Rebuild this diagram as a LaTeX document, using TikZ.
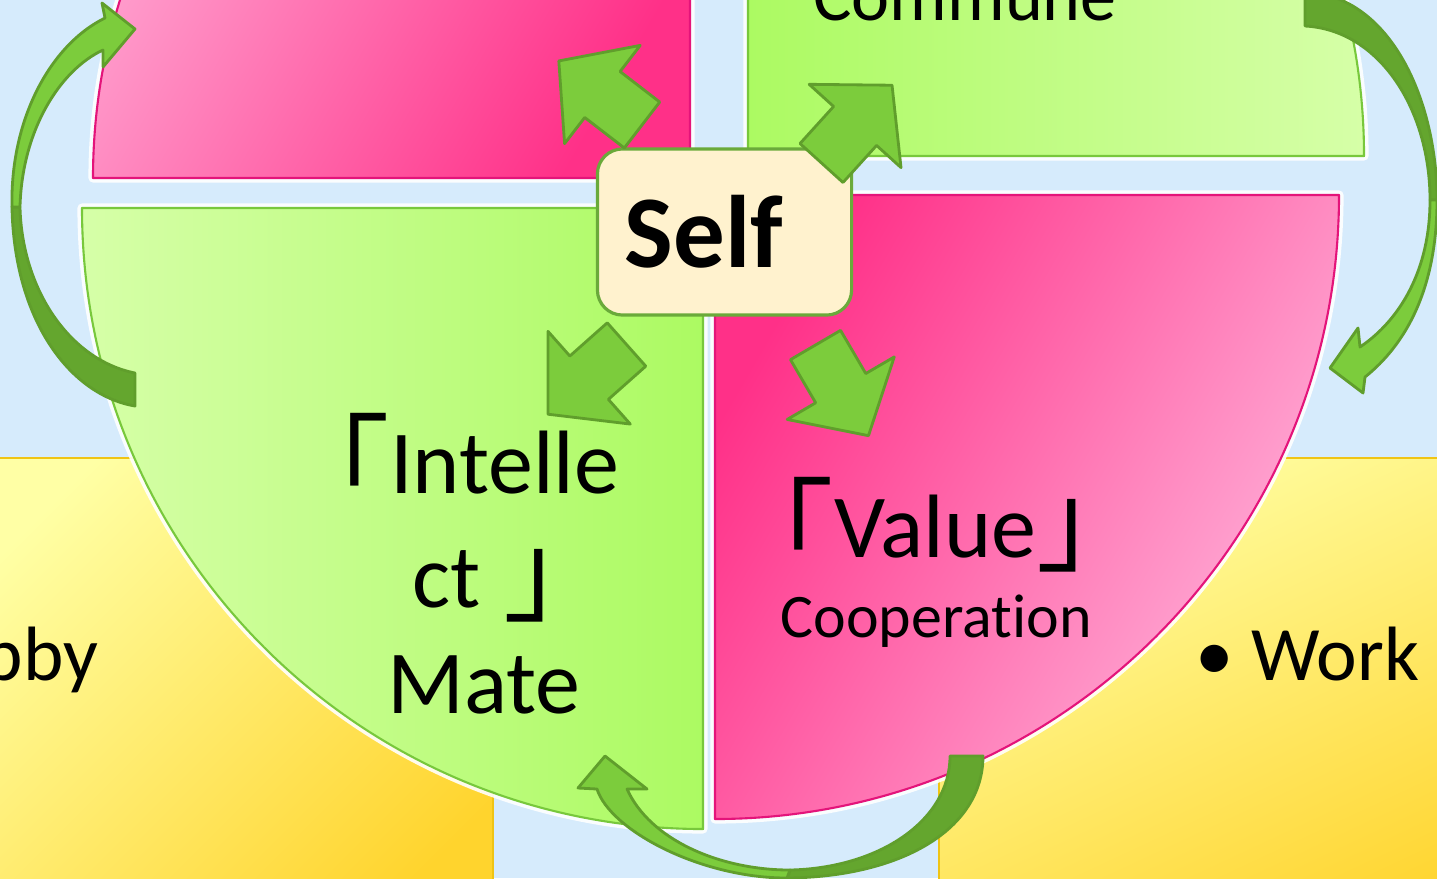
\documentclass[tikz,border=0pt]{standalone}
\usepackage{fontspec}
\setmainfont{Carlito}[Ligatures=NoCommon]
\newfontfamily\cjk{Noto Sans CJK JP}[Scale=1.25]
\usepackage{xcolor}
\usepackage{tikz}
\usetikzlibrary{calc}

\definecolor{skyback}{RGB}{214,235,252}
\definecolor{pinkdeep}{RGB}{255,48,136}
\definecolor{pinklight}{RGB}{255,182,220}
\definecolor{pinkedge}{RGB}{228,20,122}
\definecolor{greenbright}{RGB}{172,250,98}
\definecolor{greenlight}{RGB}{214,255,168}
\definecolor{greenedge}{RGB}{120,200,60}
\definecolor{yellowlight}{RGB}{255,255,165}
\definecolor{yellowdeep}{RGB}{255,212,45}
\definecolor{yellowedge}{RGB}{240,196,20}
\definecolor{arrowfill}{RGB}{124,204,60}
\definecolor{arrowdark}{RGB}{100,166,46}
\definecolor{arrowline}{RGB}{96,158,44}
\definecolor{selffill}{RGB}{255,242,206}
\definecolor{selfline}{RGB}{106,170,58}

\newcommand{\openmark}{\raisebox{-0.15cm}{\cjk 「}}
\newcommand{\closemark}{\raisebox{-0.05cm}{\cjk 」}}

\begin{document}
\begin{tikzpicture}[
		%Global config
		x=0.01cm, y=-0.01cm,
		line join=round,
		%Styles
		glow/.style={preaction={draw=white, line width=2.6pt, opacity=0.9}},
		pinkpart/.style={glow, draw=pinkedge, line width=0.6pt},
		greenpart/.style={glow, draw=greenedge, line width=0.6pt},
		yellowpart/.style={draw=yellowedge, line width=0.8pt},
		arrowlight/.style={fill=arrowfill, draw=arrowline, line width=0.8pt},
		arrowback/.style={fill=arrowdark, draw=arrowline, line width=0.8pt},
		selfbox/.style={
			draw=selfline,
			line width=0.9pt,
			fill=selffill,
			rounded corners=0.25cm,
			minimum height=1.66cm,
			text width=2.0cm,
			inner xsep=0.27cm,
			align=left,
			font=\bfseries\fontsize{29.3pt}{35pt}\selectfont
		},
		quadtext/.style={inner sep=0pt, font=\fontsize{25.6pt}{31pt}\selectfont},
		subtext/.style={inner sep=0pt, font=\fontsize{17.6pt}{21pt}\selectfont},
		toptext/.style={inner sep=0pt, font=\fontsize{20.5pt}{25pt}\selectfont},
		sidetext/.style={inner sep=0pt, font=\fontsize{21.9pt}{26pt}\selectfont},
		pics/blockarr/.style={code={
			\draw[arrowlight] (0,-29) -- (50,-29) -- (50,-62) -- (105,0) -- (50,62) -- (50,29) -- (0,29) -- cycle;
		}}
	]

	\useasboundingbox (0,0) rectangle (1437,878);
	\clip (0,0) rectangle (1437,878);
	\fill[skyback] (0,0) rectangle (1437,878);

	% yellow boxes behind
	\draw[yellowpart, top color=yellowlight, bottom color=yellowdeep, shading angle=45] (-60,458) rectangle (493,960);
	\draw[yellowpart, top color=yellowlight, bottom color=yellowdeep, shading angle=25] (939,458) rectangle (1520,960);

	% four quarters
	\draw[pinkpart, top color=pinklight, bottom color=pinkdeep, shading angle=60]
		(690,178) -- (93,178) arc[start angle=180, end angle=270, radius=597] -- cycle;
	\draw[greenpart, left color=greenbright, right color=greenlight]
		(748,156) -- (748,-460) arc[start angle=270, end angle=360, radius=616] -- cycle;
	\draw[pinkpart, top color=pinkdeep, bottom color=pinklight, shading angle=60]
		(715,195) -- (1339,195) arc[start angle=0, end angle=90, radius=624] -- cycle;
	\draw[greenpart, left color=greenlight, right color=greenbright]
		(703,208) -- (703,829) arc[start angle=90, end angle=180, radius=621] -- cycle;

	% curved arrows round the circle
	\filldraw[arrowback] (135,406) .. controls (70,395) and (14,320) .. (12,207) -- (20,207)
		.. controls (22,290) and (70,360) .. (135,373) -- cycle;
	\filldraw[arrowlight] (12,207) .. controls (10,120) and (50,45) .. (105,18)
		-- (102,3) -- (135,29) -- (103,67) -- (103,50)
		.. controls (60,70) and (22,130) .. (20,207) -- cycle;

	\filldraw[arrowback] (1305,-8) .. controls (1390,-5) and (1437,100) .. (1437,200) -- (1430,200)
		.. controls (1430,110) and (1380,30) .. (1305,26) -- cycle;
	\filldraw[arrowlight] (1437,200) .. controls (1437,290) and (1405,345) .. (1365,377)
		-- (1363,393) -- (1330,368) -- (1358,328) -- (1360,347)
		.. controls (1400,320) and (1430,270) .. (1430,200) -- cycle;

	\filldraw[arrowback] (983,756) .. controls (983,830) and (900,877) .. (787,878) -- (790,870)
		.. controls (880,868) and (950,820) .. (950,756) -- cycle;
	\filldraw[arrowlight] (787,878) .. controls (700,878) and (610,830) .. (597,789)
		-- (578,788) -- (605,756) -- (647,789) -- (627,789)
		.. controls (650,840) and (720,870) .. (790,870) -- cycle;

	% centre box and its arrows
	\node[selfbox] (self) at (724.5,232) {Self};

	\pic[rotate=142.4] (toTL) at (642,125) {blockarr};
	\pic[rotate=47.8] (toTR) at (821.5,163) {blockarr};
	\pic[rotate=-138.4] (toBL) at (626.5,344.5) {blockarr};
	\pic[rotate=-59.7] (toBR) at (815.5,345) {blockarr};

	% texts
	\node[toptext, anchor=base] (commune) at (965,20) {Commune};
	\node[quadtext, anchor=base west] (intA) at (277,493) {\openmark Intelle};
	\node[quadtext, anchor=base west] (intB) at (412,607) {ct\kern0.23cm\closemark};
	\node[quadtext, anchor=base] (intC) at (484,713) {Mate};
	\node[quadtext, anchor=base west] (valA) at (721,557) {\openmark Value\closemark};
	\node[subtext, anchor=base] (valB) at (936,637) {Cooperation};
	\node[sidetext, anchor=base east] (hobby) at (99,680) {bby};
	\node[sidetext, anchor=base west] (work) at (1195,680) {• Work};
\end{tikzpicture}
\end{document}
